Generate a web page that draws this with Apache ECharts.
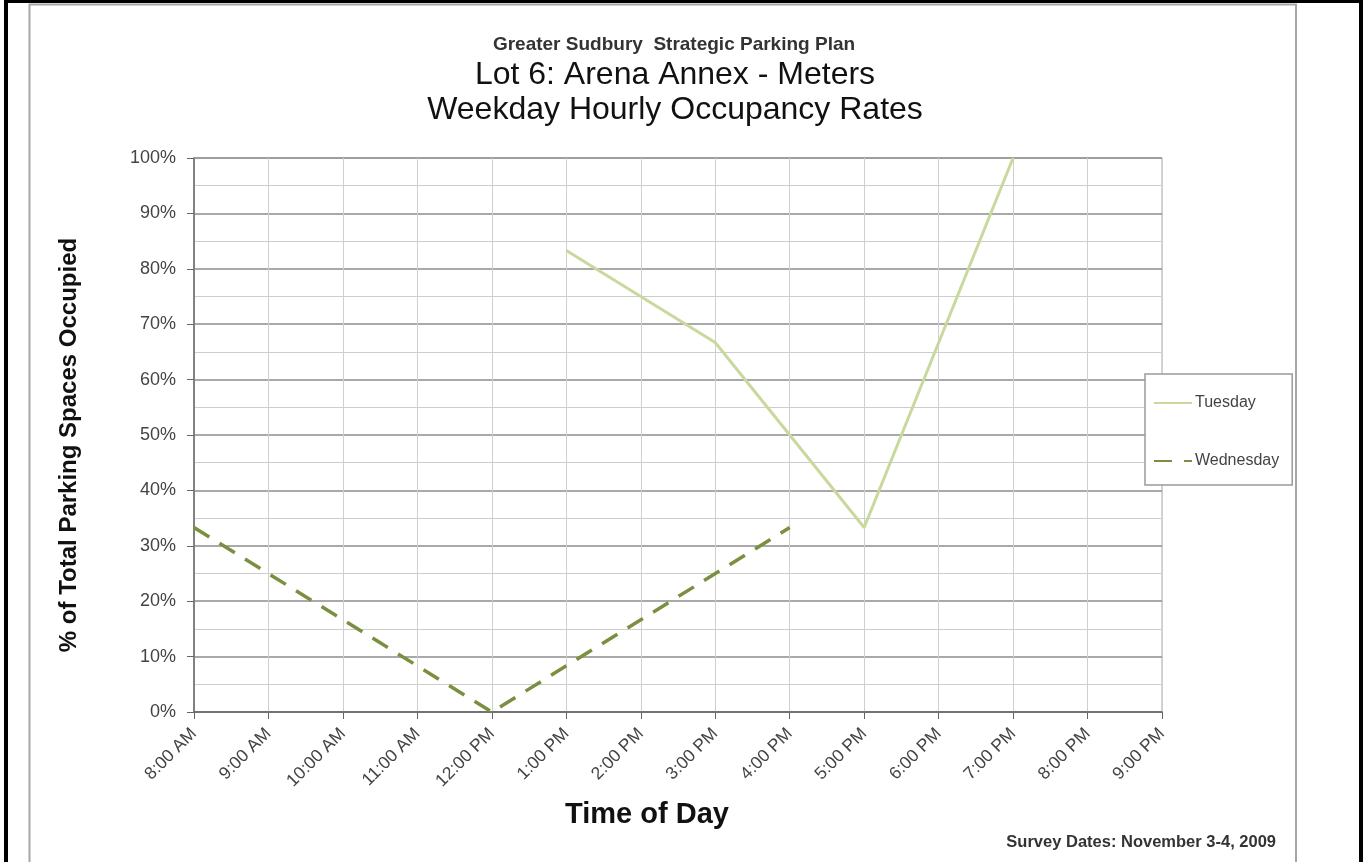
<!DOCTYPE html>
<html>
<head>
<meta charset="utf-8">
<style>
  html, body { margin: 0; padding: 0; background: #fff; }
  #chart { width: 1363px; height: 862px; }
</style>
<script src="https://cdn.jsdelivr.net/npm/echarts@6/dist/echarts.min.js"></script>
</head>
<body>
<div id="chart"></div>
<script>
// Hours of the survey day
const hours = ['8:00 AM', '9:00 AM', '10:00 AM', '11:00 AM', '12:00 PM', '1:00 PM', '2:00 PM',
  '3:00 PM', '4:00 PM', '5:00 PM', '6:00 PM', '7:00 PM', '8:00 PM', '9:00 PM'];

// Occupancy (% of spaces) per hour; null where the lot was not counted
const tuesday = [null, null, null, null, null, 83.3, null, 66.7, null, 33.3, null, 100, null, null];
const wednesday = [33.3, null, null, null, 0, null, null, null, 33.3, null, null, null, null, null];

const yTicks = [0, 10, 20, 30, 40, 50, 60, 70, 80, 90, 100];

const chart = echarts.init(document.getElementById('chart'), null, { renderer: 'canvas' });

const font = 'Arial, "Liberation Sans", sans-serif';

chart.setOption({
  animation: false,
  backgroundColor: '#ffffff',
  textStyle: { fontFamily: font },
  title: [
    {
      text: 'Greater Sudbury  Strategic Parking Plan',
      left: 669, top: 30, textAlign: 'center',
      textStyle: { fontSize: 19, fontWeight: 'bold', color: '#333', fontFamily: font }
    },
    {
      text: 'Lot 6: Arena Annex - Meters\nWeekday Hourly Occupancy Rates',
      left: 670, top: 53, textAlign: 'center',
      textStyle: { fontSize: 32, fontWeight: 'normal', color: '#111', lineHeight: 35, fontFamily: font }
    },
    {
      text: 'Survey Dates: November 3-4, 2009',
      left: 1271, top: 829, textAlign: 'right',
      textStyle: { fontSize: 16.5, fontWeight: 'bold', color: '#333', fontFamily: font }
    }
  ],
  legend: {
    orient: 'vertical',
    left: 1145, top: 374,
    padding: [21, 13, 16, 8],
    itemWidth: 38, itemHeight: 14, itemGap: 42,
    borderColor: '#9a9a9a', borderWidth: 1.5,
    backgroundColor: '#fff',
    itemStyle: { opacity: 0 },
    textStyle: { fontSize: 16, color: '#444', fontFamily: font, padding: [0, 0, 0, -2] },
    data: ['Tuesday', 'Wednesday']
  },
  grid: { left: 194, top: 158, width: 968, height: 554, containLabel: false,
    show: true, borderColor: '#aaaaaa', borderWidth: 1 },
  xAxis: {
    type: 'category',
    data: hours,
    boundaryGap: false,
    name: 'Time of Day',
    nameLocation: 'middle',
    nameGap: 88,
    nameTextStyle: { fontSize: 29, fontWeight: 'bold', color: '#111', fontFamily: font,
      padding: [0, 62, 0, 0] },
    axisLine: { lineStyle: { color: '#666', width: 1.5 } },
    axisTick: { show: true, length: 7, lineStyle: { color: '#666' } },
    axisLabel: { rotate: 45, fontSize: 17.5, color: '#444', margin: 19, interval: 0 },
    splitLine: { show: true, interval: 0, lineStyle: { color: '#cfcfcf', width: 1 } }
  },
  yAxis: {
    type: 'value',
    min: yTicks[0], max: yTicks[yTicks.length - 1], interval: 10,
    name: '% of Total Parking Spaces Occupied',
    nameLocation: 'middle',
    nameGap: 113,
    nameTextStyle: { fontSize: 24, fontWeight: 'bold', color: '#111', fontFamily: font,
      padding: [0, 20, 0, 0] },
    axisLine: { show: true, lineStyle: { color: '#666', width: 1.5 } },
    axisTick: { show: true, length: 7, lineStyle: { color: '#666' } },
    axisLabel: { formatter: '{value}%', fontSize: 18, color: '#444', margin: 18 },
    splitLine: { show: true, lineStyle: { color: '#8c8c8c', width: 1.5 } },
    minorTick: { show: false, splitNumber: 2 },
    minorSplitLine: { show: true, lineStyle: { color: '#cdcdcd', width: 1 } }
  },
  series: [
    {
      name: 'Tuesday',
      type: 'line',
      data: tuesday,
      connectNulls: true,
      symbol: 'none',
      color: '#c9d99e',
      lineStyle: { color: '#c9d99e', width: 3 }
    },
    {
      name: 'Wednesday',
      type: 'line',
      data: wednesday,
      connectNulls: true,
      symbol: 'none',
      color: '#7a9040',
      lineStyle: { color: '#7a9040', width: 3.5, type: [18, 12] }
    }
  ],
  graphic: [
    // outer black frame
    { type: 'rect', shape: { x: 4, y: 0, width: 4, height: 862 }, style: { fill: '#000' } },
    { type: 'rect', shape: { x: 4, y: 0, width: 1359, height: 3 }, style: { fill: '#000' } },
    { type: 'rect', shape: { x: 1359, y: 0, width: 4, height: 862 }, style: { fill: '#000' } },
    // inner grey frame
    { type: 'rect', shape: { x: 29.5, y: 4.5, width: 1266.5, height: 870 },
      style: { fill: 'none', stroke: '#a6a6a6', lineWidth: 2 } }
  ]
});
</script>
</body>
</html>
